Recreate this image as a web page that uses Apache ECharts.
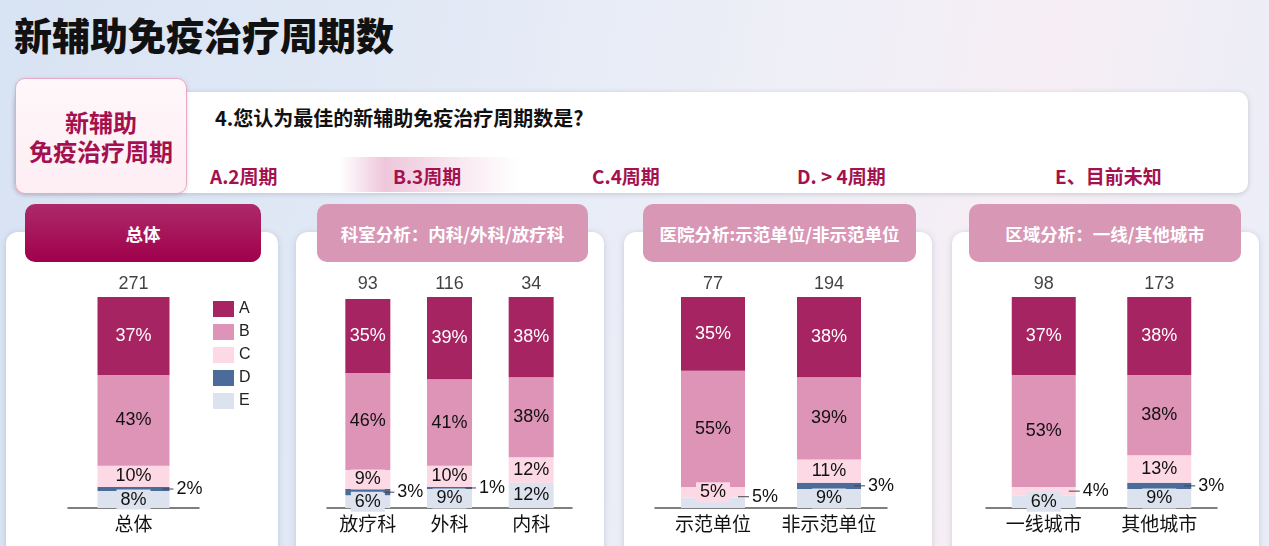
<!DOCTYPE html>
<html>
<head>
<meta charset="utf-8">
<script src="https://cdn.jsdelivr.net/npm/echarts@6/dist/echarts.min.js"></script>
<style>
  body { margin: 0; }
  #page {
    position: relative; width: 1269px; height: 546px; overflow: hidden;
    font-family: "Noto Sans CJK SC", sans-serif;
    background: linear-gradient(100deg, #d8e3f3 0%, #e3eaf6 35%, #efeff7 60%, #f6eef4 78%, #e9edf8 100%);
  }
  .title { position: absolute; left: 14px; top: 6px; font-size: 38px; font-weight: 900; color: #111; }
  .qbox { position: absolute; left: 15px; top: 92px; width: 1233px; height: 101px; background: #fff;
    border-radius: 10px; box-shadow: 0 1px 5px rgba(80,80,110,0.25); }
  .tag { position: absolute; left: 15px; top: 78px; width: 170px; height: 114px; border: 1px solid #e7a9c5;
    border-radius: 10px; background: linear-gradient(180deg, #fff7fa 0%, #fdeef4 100%);
    box-shadow: 0 1px 4px rgba(120,60,90,0.2);
    display: flex; align-items: center; justify-content: center; text-align: center;
    color: #a5104f; font-weight: 700; font-size: 24px; line-height: 29px; }
  .question { position: absolute; left: 215px; top: 103px; font-size: 20px; font-weight: 700; color: #111; }
  .hl { position: absolute; left: 340px; top: 157px; width: 178px; height: 35px;
    background: linear-gradient(90deg, rgba(232,170,200,0) 0%, rgba(228,160,195,0.6) 25%, rgba(236,185,210,0.35) 65%, rgba(255,255,255,0) 100%); }
  .opt { position: absolute; top: 162px; font-size: 19px; font-weight: 700; color: #a3124f; }
  .card { position: absolute; top: 232px; height: 340px; background: #fff; border-radius: 12px;
    box-shadow: 0 1px 6px rgba(80,80,110,0.22); }
  .pill { position: absolute; top: 204px; height: 58px; border-radius: 10px; color: #fff;
    font-weight: 700; font-size: 17.5px; display: flex; align-items: center; justify-content: center;
    background: #d997b6; z-index: 2; }
  .pill.dark { background: linear-gradient(180deg, #ad2a68 0%, #a0004c 100%); }
  #chart { position: absolute; left: 0; top: 0; width: 1269px; height: 546px; z-index: 5; }
</style>
</head>
<body>
<div id="page">
  <div class="title">新辅助免疫治疗周期数</div>
  <div class="qbox"></div>
  <div class="tag">新辅助<br>免疫治疗周期</div>
  <div class="question">4.您认为最佳的新辅助免疫治疗周期数是?</div>
  <div class="hl"></div>
  <div class="opt" style="left:210px">A.2周期</div>
  <div class="opt" style="left:393px">B.3周期</div>
  <div class="opt" style="left:592px">C.4周期</div>
  <div class="opt" style="left:797px">D. > 4周期</div>
  <div class="opt" style="left:1055px">E、目前未知</div>

  <div class="card" style="left:6px;width:272px"></div>
  <div class="card" style="left:296px;width:308px"></div>
  <div class="card" style="left:624px;width:308px"></div>
  <div class="card" style="left:952px;width:307px"></div>
  <div class="pill dark" style="left:25px;width:236px">总体</div>
  <div class="pill" style="left:317px;width:271px">科室分析：内科/外科/放疗科</div>
  <div class="pill" style="left:643px;width:273px">医院分析:示范单位/非示范单位</div>
  <div class="pill" style="left:969px;width:272px">区域分析：一线/其他城市</div>

  <div id="chart"></div>
</div>
<script>
  // 分组类别
  const catsTotal = ['总体'];
  const catsDept = ['放疗科', '外科', '内科'];
  const catsHosp = ['示范单位', '非示范单位'];
  const catsRegion = ['一线城市', '其他城市'];
  // 样本量（与上面类别依次对应）
  const sampleN = [271, 93, 116, 34, 77, 194, 98, 173];
  // 各选项占比 %
  const pctA = [37, 35, 39, 38, 35, 38, 37, 38];
  const pctB = [43, 46, 41, 38, 55, 39, 53, 38];
  const pctC = [10, 9, 10, 12, 5, 11, 4, 13];
  const pctD = [2, 3, 1, 0, 0, 3, 0, 3];
  const pctE = [8, 6, 9, 12, 5, 9, 6, 9];
  const legendNames = ['A', 'B', 'C', 'D', 'E'];

  const colors = { A: '#a62462', B: '#de94b7', C: '#fdd9e6', D: '#4b6c9b', E: '#dce3ee' };
  const values = { A: pctA, B: pctB, C: pctC, D: pctD, E: pctE };
  // 小块的标签放在柱子右侧，前面加一小段引线
  const outsideLabels = ['总体-D', '放疗科-D', '外科-D', '示范单位-E', '非示范单位-D', '一线城市-C', '其他城市-D'];
  const raisedLabels = ['示范单位-E'];

  const panels = [
    { cats: catsTotal, barWidth: 72, left: 68, width: 131 },
    { cats: catsDept, barWidth: 45, left: 327, width: 245 },
    { cats: catsHosp, barWidth: 64, left: 655, width: 232 },
    { cats: catsRegion, barWidth: 64, left: 986, width: 231 }
  ];

  const numFont = '"Liberation Sans", Arial, sans-serif';
  const grid = [], xAxis = [], yAxis = [], series = [];
  let offset = 0;
  panels.forEach((p, i) => {
    const n = p.cats.length;
    const off = offset;
    grid.push({ left: p.left, width: p.width, top: 297, bottom: 38 });
    xAxis.push({
      type: 'category', gridIndex: i, data: p.cats,
      axisLine: { lineStyle: { color: '#555', width: 1.5 } },
      axisTick: { show: false },
      axisLabel: { interval: 0, fontSize: 19, color: '#111', margin: 6, fontFamily: '"Noto Sans CJK SC"' }
    });
    yAxis.push({ type: 'value', gridIndex: i, min: 0, max: 100, show: false, splitLine: { show: false } });

    // 堆叠顺序：E 在最下，A 在最上
    ['E', 'D', 'C', 'B', 'A'].forEach(key => {
      const data = values[key].slice(off, off + n).map((v, j) => {
        const tag = p.cats[j] + '-' + key;
        const item = { value: v };
        if (v === 0) {
          item.label = { show: false };
        } else if (outsideLabels.includes(tag)) {
          const raised = raisedLabels.includes(tag);
          item.label = {
            position: 'right', distance: -7, color: '#111', backgroundColor: 'transparent',
            padding: 0, offset: raised ? [0, -6] : [0, 0],
            formatter: '{dash|}{t|{c}%}',
            rich: {
              dash: { width: 11, height: 1, backgroundColor: '#444', verticalAlign: 'middle' },
              t: { fontSize: 18, fontFamily: numFont, color: '#111', padding: [0, 0, 0, 3] }
            }
          };
        }
        return item;
      });
      series.push({
        type: 'bar', name: key, stack: 'g' + i, xAxisIndex: i, yAxisIndex: i,
        barWidth: p.barWidth, itemStyle: { color: colors[key] },
        data: data,
        label: {
          show: true, position: 'inside', formatter: '{c}%',
          fontSize: 18, fontFamily: numFont,
          color: key === 'A' ? '#fff' : '#111',
          backgroundColor: (key === 'C' || key === 'E') ? colors[key] : 'transparent',
          padding: [1, 4]
        }
      });
    });
    // 柱顶样本量
    series.push({
      type: 'scatter', xAxisIndex: i, yAxisIndex: i, symbolSize: 0,
      data: p.cats.map(() => 100),
      label: {
        show: true, position: 'top', distance: 4, fontSize: 18, fontFamily: numFont, color: '#111',
        formatter: prm => String(sampleN[off + prm.dataIndex])
      },
      silent: true
    });
    offset += n;
  });

  const chart = echarts.init(document.getElementById('chart'));
  chart.setOption({
    animation: false,
    legend: {
      data: legendNames, orient: 'vertical', left: 208, top: 296,
      itemWidth: 21, itemHeight: 16, itemGap: 7, icon: 'rect', selectedMode: false,
      textStyle: { fontSize: 16, color: '#222', fontFamily: numFont }
    },
    grid, xAxis, yAxis, series
  });
</script>
</body>
</html>
